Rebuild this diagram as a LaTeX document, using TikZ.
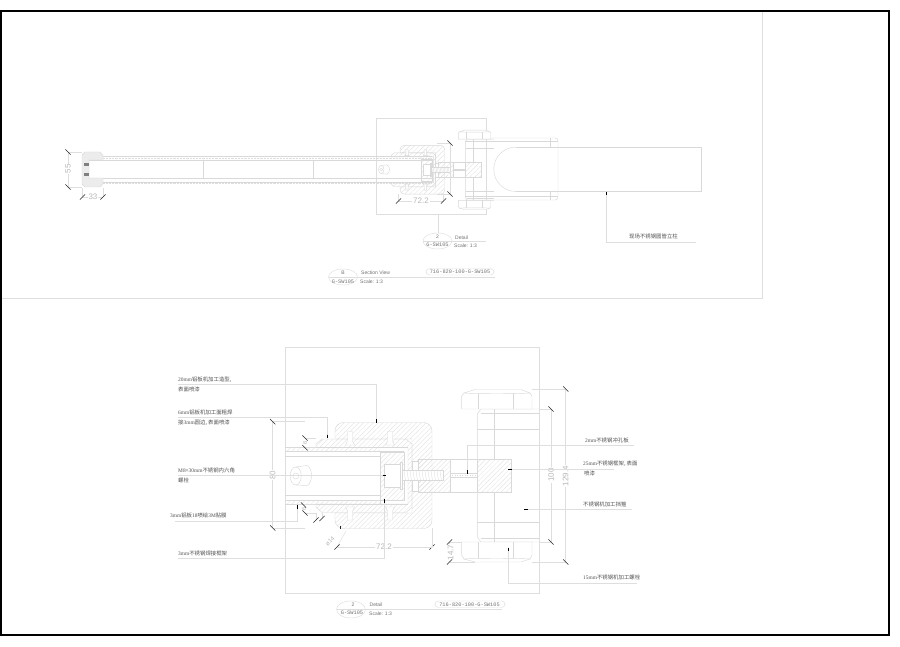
\documentclass[tikz,border=0pt]{standalone}
\usepackage{fontspec}
\newfontfamily\cjk{Noto Sans CJK SC}
\setmainfont{Liberation Serif}
\setsansfont{Liberation Sans}
\setmonofont{Liberation Mono}
\usetikzlibrary{patterns.meta}
\definecolor{ln}{gray}{0.87}
\definecolor{lnd}{gray}{0.85}
\definecolor{hat}{gray}{0.87}
\definecolor{dimc}{gray}{0.72}
\definecolor{lab}{gray}{0.32}
\tikzset{
 x=1pt,y=-1pt,
 thin line/.style={draw=ln,line width=.5pt},
 leader/.style={draw=ln,line width=.45pt},
 part/.style={draw=lnd,line width=.45pt},
 hatchfill/.style={part,pattern={Lines[angle=45,distance=3.4pt,line width=.3pt]},pattern color=hat},
 tickmark/.style={draw=black!85,line width=.6pt},
 dimtext/.style={text=dimc,font=\sffamily\fontsize{8}{8}\selectfont,inner sep=1pt,fill=white},
 smalltext/.style={text=black!55,font=\sffamily\fontsize{5}{5}\selectfont,inner sep=0pt},
 codetext/.style={text=black!55,font=\ttfamily\fontsize{5.3}{5.3}\selectfont,inner sep=0pt},
 lbl/.style={text=lab,font=\rmfamily\fontsize{5.4}{6}\selectfont,inner sep=0pt,anchor=west},
}
\newcommand{\C}[1]{{\cjk #1}}
\newcommand{\tk}[2]{\draw[tickmark] (#1-2.6,#2+2.6) -- (#1+2.6,#2-2.6);}
\newcommand{\tb}[2]{\draw[tickmark] (#1-2.6,#2-2.6) -- (#1+2.6,#2+2.6);}
\newcommand{\arrowv}[3]{\draw[draw=black,line width=.9pt] (#1,#2) -- (#1,#3);}
\newcommand{\arrowh}[3]{\draw[draw=black,line width=.9pt] (#1,#3) -- (#2,#3);}
\def\rcr{8.5pt}
\newcommand{\clampdetail}{%
  % C-shaped outer block
  \draw[hatchfill] (335,439) [rounded corners=\rcr] -- (335,422.5) -- (432,422.5) -- (432,528.5) -- (335,528.5) [sharp corners] -- (335,513) -- (412,513) -- (412,439) -- cycle;
  % inner plate
  \draw[hatchfill] (316,444) -- (322,439) -- (406,439) -- (412,444) -- (412,507) -- (406,512.5) -- (322,512.5) -- (316,507) -- (316,504) -- (408,504) -- (408,447.5) -- (316,447.5) -- cycle;
  % T bolts
  \foreach \tx in {350,390}{
   \draw[part,fill=white] (\tx-2.5,431.5) -- (\tx+2.5,431.5) -- (\tx+2.5,441) -- (\tx+4.5,445) -- (\tx-4.5,445) -- (\tx-2.5,441) -- cycle;
   \draw[part,fill=white] (\tx-2.5,520) -- (\tx+2.5,520) -- (\tx+2.5,511) -- (\tx+4.5,507) -- (\tx-4.5,507) -- (\tx-2.5,511) -- cycle;
  }
  % inner insert
  \draw[hatchfill] (380,452) -- (404,452) -- (404,500) -- (380,500) -- cycle;
  \draw[part,fill=white] (384.7,464) -- (400,464) -- (400,487) -- (384.7,487) -- cycle;
  \draw[part,fill=white] (400,462) -- (402,462) -- (402,489) -- (400,489) -- cycle;
  % stem and washer
  \draw[part,fill=white] (412,461) -- (418,461) -- (418,491) -- (412,491) -- cycle;
  \draw[hatchfill] (418,459.3) -- (450,459.3) -- (450,492.3) -- (418,492.3) -- cycle;
  \draw[part] (450,459.3) -- (477.3,459.3) (450,492.3) -- (477.3,492.3);
  \draw[hatchfill] (477.3,459.3) -- (511.5,459.3) -- (511.5,492.3) -- (477.3,492.3) -- cycle;
  % threaded bolt
  \draw[part,fill=white] (402,470.7) -- (443,470.7) -- (443,480.7) -- (402,480.7) -- cycle;
  \foreach \bx in {404,407,...,442}{\draw[part,line width=.3pt] (\bx,470.7) -- (\bx+1.5,480.7);}
  % perforated plate
  \draw[part] (450,473.5) -- (477.3,473.5) (450,477.5) -- (477.3,477.5);
  \draw[part,dotted] (450,475.5) -- (477.3,475.5);
  % clamp body
  \draw[part] (477.3,459.3) -- (477.3,414) -- (481,409) -- (539,409);
  \draw[part] (477.3,492.3) -- (477.3,537) -- (481,542) -- (539,542);
  \draw[part] (481,413) -- (539,413) (477.3,429) -- (539,429) (477.3,522) -- (539,522) (481,538) -- (539,538);
  \draw[part] (494.6,409) -- (494.6,459.3) (494.6,492.3) -- (494.6,542);
  % heads
  \draw[part,fill=white] (461.7,396) -- (464,393) -- (475,389.5) -- (521,389.5) -- (530,393) -- (532,396) -- (532,409) -- (461.7,409) -- cycle;
  \draw[part] (478.5,393.5) -- (478.5,409) (513.5,393) -- (513.5,409);
  \draw[part] (464,393) .. controls (478,394) and (515,394) .. (530,393);
  \draw[part,fill=white] (461.7,555) -- (464,559) -- (475,562) -- (521,562) -- (530,559) -- (532,555) -- (532,542) -- (461.7,542) -- cycle;
  \draw[part] (478.5,558) -- (478.5,542) (513.5,558) -- (513.5,542);
  \draw[part] (464,559) .. controls (478,558) and (515,558) .. (530,559);
}
\begin{document}
\begin{tikzpicture}
\useasboundingbox (0,0) rectangle (900,647);
\fill[white] (0,0) rectangle (900,647);
% sheet lines and frame
\draw[thin line] (1,298.5) -- (762.5,298.5) -- (762.5,11);
\draw[draw=black,line width=2.2pt] (1.2,11) rectangle (888.8,635);

% ---------- top section ----------
\draw[thin line] (376.5,118) rectangle (486.5,214.5);
% post and clamp
\draw[part] (516,147) -- (701.5,147) -- (701.5,191.5) -- (516,191.5);
\draw[part] (516,147) .. controls (503.7,147) and (493.75,157) .. (493.75,169.25) .. controls (493.75,181.5) and (503.7,191.5) .. (516,191.5);
\draw[part,rounded corners=3pt] (465,138) -- (558,138) -- (558,200) -- (465,200);
\draw[part] (465,141.5) -- (558,141.5) (465,196.5) -- (558,196.5) (550,138) -- (550,147) (550,191.5) -- (550,200);
% handle rails
\draw[part] (85,156) -- (432,156) (85,160) -- (432,160) (85,178) -- (432,178) (85,182) -- (432,182);
\draw[part,densely dotted,draw=ln] (100,158) -- (432,158);
\draw[part,densely dotted,draw=ln] (100,183) -- (432,183);
\draw[part] (203.5,160) -- (203.5,178) (313,160) -- (313,178);
\begin{scope}[shift={(246,-49.0)},x=.46pt,y=-.46pt]
\def\rcr{4pt}
\clampdetail
\draw[part,fill=white] (294,475) ellipse[x radius=6,y radius=9];
\draw[part] (294,475) circle[radius=3];
\draw[part] (294,466) -- (306,465) (294,484) -- (306,485);
\draw[part] (306,465) .. controls (314,468) and (314,482) .. (306,485);
\end{scope}
% end cap
\fill[gray!15] (85,152) -- (100,152) -- (103,155.5) -- (103,160) -- (89,160) -- (89,178) -- (103,178) -- (103,183.5) -- (100,187) -- (85,187) -- (82,184) -- (82,155) -- cycle;
\draw[part] (85,152) -- (100,152) -- (103,155.5) -- (103,160) -- (89,160) -- (89,178) -- (103,178) -- (103,183.5) -- (100,187) -- (85,187) -- (82,184) -- (82,155) -- cycle;
\fill[black!50] (84,163) rectangle (89,166.5);
\fill[black!50] (84,173) rectangle (89,176.5);
% dims
\draw[leader] (68,152) -- (82,152) (68,187) -- (82,187);
\draw[leader] (68,152) -- (68,187);
\node[dimtext,rotate=90] (d55) at (68,169) {55};
\tb{68}{152}\tb{68}{187}
\draw[leader] (82,188) -- (82,197) (103,188) -- (103,197) (82,197) -- (103,197);
\node[dimtext] (d33) at (93,197) {33};
\tk{82.5}{197}\tk{103}{197}
\draw[leader] (398,194) -- (398,201) (443.5,194) -- (443.5,201) (398,201) -- (443.5,201);
\node[dimtext] (d722a) at (421,201) {72.2};
\tk{398.5}{201}\tk{443.5}{201}
\draw[leader] (437,143) -- (450,143) (437,194) -- (450,194) (450,143) -- (450,194);
\tb{450}{143}\tb{450}{194}
% post leader
\coordinate (pa) at (606,192);
\coordinate (pb) at (606,242);
\coordinate (pc) at (696,242);
\draw[leader] (pa) -- (pb) -- (pc);
\arrowv{606}{192}{195}
\node[lbl] (plabel) at (629,236.5) {\C{现场不锈钢圆管立柱}};
% detail marker
\draw[leader] (438,214.5) -- (438,233.5);
\draw[leader] (423,241) -- (486,241);
\draw[leader,fill=white] (437.5,241) ellipse[x radius=14.5,y radius=8];
\draw[leader] (423,241) -- (452,241);
\node[smalltext] (m1) at (437.5,237) {2};
\node[codetext] (m2) at (437.5,245) {G-SW105};
\node[smalltext,anchor=west] (m3) at (455,237.5) {Detail};
\node[smalltext,anchor=west] (m4) at (454,246) {Scale: 1:3};
% section marker
\draw[leader] (329,277) -- (495,277);
\draw[leader,fill=white] (343,277) ellipse[x radius=14.5,y radius=8];
\draw[leader] (329,277) -- (357,277);
\node[smalltext] (s1) at (343,272.5) {B};
\node[codetext] (s2) at (343,281.5) {G-SW105};
\node[smalltext,anchor=west] (s3) at (361,272.5) {Section View};
\node[smalltext,anchor=west] (s4) at (360,282) {Scale: 1:3};
\draw[leader,fill=white,rounded corners=3.5pt] (426,268.5) rectangle (494,275);
\node[codetext] (s5) at (460,271.8) {716-820-100-G-SW105};

% ---------- detail ----------
\draw[thin line] (285,347) rectangle (539,593);
\clampdetail
% tube
\draw[part] (285,447.7) -- (408,447.7) (285,451.7) -- (404,451.7) (285,456) -- (380,456) (285,495) -- (380,495) (285,500) -- (404,500) (285,504) -- (408,504);
\fill[pattern={Lines[angle=45,distance=3.4pt,line width=.3pt]},pattern color=hat] (285,447.7) rectangle (380,451.7) (285,500) rectangle (380,504);
\draw[part] (380,452) -- (380,504);
% socket bolt
\draw[part,fill=white] (295.7,476) ellipse[x radius=5.5,y radius=9];
\draw[part] (295.7,476) circle[radius=3];
\draw[part] (295.7,467) -- (307,465.5) (295.7,485) -- (307,485.5);
\draw[part] (307,465.5) .. controls (313,468) and (313,483) .. (307,485.5);
% dims
\draw[leader] (272.7,421.7) -- (305,421.7) (272.7,528) -- (305,528) (272.7,421.7) -- (272.7,528);
\node[dimtext,rotate=90] (d80) at (272.7,475) {80};
\tb{272.7}{421.7}\tb{272.7}{528}
\draw[leader] (305,438) -- (316,438) (305,447.7) -- (316,447.7);
\node[dimtext,rotate=90,fill=none,font=\sffamily\fontsize{6}{6}\selectfont] (d6a) at (305,442.7) {6};
\tb{305}{438}\tb{305}{447.7}
\draw[leader] (304,504.5) -- (316,504.5) (305,513) -- (316,513);
\node[dimtext,rotate=90,fill=none,font=\sffamily\fontsize{6}{6}\selectfont] (d6b) at (304,509) {6};
\tb{303.5}{505}\tb{305}{513}
\draw[leader] (316,513) -- (316,520) (322,513) -- (322,518);
\tk{316}{520}\tk{322}{518.5}
\node[dimtext,fill=none,rotate=45,font=\sffamily\fontsize{6}{6}\selectfont] (dphi) at (330,541.5) {ø14};
\draw[leader] (337,547) -- (346,531);
\draw[tickmark] (340,525.5) -- (340,529);
\tk{337}{547}\tk{432}{547}
\draw[leader] (337,547) -- (432,547) (432,528) -- (432,547);
\node[dimtext] (d722b) at (384,547) {72.2};
% right dims
\draw[leader] (532,389) -- (565.7,389) (532,562) -- (565.7,562) (565.7,389) -- (565.7,562);
\draw[leader] (539,409) -- (551,409) (539,542) -- (551,542) (551,409) -- (551,542);
\node[dimtext,rotate=90] (d100) at (551,475) {100};
\node[dimtext,rotate=90] (d129) at (565.7,476) {129.4};
\tb{551}{409}\tb{551}{542}\tb{565.7}{389}\tb{565.7}{562}
\draw[leader] (449.5,542) -- (461.7,542) (449.5,562) -- (475,562) (449.5,542) -- (449.5,562);
\node[dimtext,rotate=90,fill=white] (d147) at (450.5,552.5) {14.7};
\tk{449.5}{542}\tk{449.5}{562}
% leaders and labels
\coordinate (a1) at (178,384); \coordinate (a1b) at (376.5,384); \coordinate (a1c) at (376.5,422);
\draw[leader] (a1) -- (a1b) -- (a1c); \arrowv{376.5}{419}{422.5}
\node[lbl] (t1) at (178,379.5) {20mm\C{铝板机加工造型,}};
\node[lbl] (t1b) at (178,389.5) {\C{表面喷漆}};
\coordinate (a2) at (178,417); \coordinate (a2b) at (327,417); \coordinate (a2c) at (327,438);
\draw[leader] (a2) -- (a2b) -- (a2c); \arrowv{327}{434.5}{438}
\node[lbl] (t2) at (178,412) {6mm\C{铝板机加工面粗焊}};
\node[lbl] (t2b) at (178,423) {\C{接}3mm\C{圆边, 表面喷漆}};
\coordinate (a3) at (178,475.3); \coordinate (a3b) at (386,475.3);
\draw[leader] (a3) -- (a3b); \arrowh{382.5}{386}{475.3}
\node[lbl] (t3) at (178,470) {M8×30mm\C{不锈钢内六角}};
\node[lbl] (t3b) at (178,480.5) {\C{螺栓}};
\coordinate (a4) at (175,521.5); \coordinate (a4b) at (297,521.5); \coordinate (a4c) at (297,505);
\draw[leader] (a4) -- (a4b) -- (a4c); \arrowv{297}{505}{509}
\node[lbl] (t4) at (170,515.5) {3mm\C{铝板}18\C{喷绘}3M\C{贴膜}};
\coordinate (a5) at (178,558.5); \coordinate (a5b) at (384.5,558.5); \coordinate (a5c) at (384.5,499);
\draw[leader] (a5) -- (a5b) -- (a5c); \arrowv{384.5}{499}{503}
\node[lbl] (t5) at (178,553) {3mm\C{不锈钢焊接框架}};
\coordinate (b1) at (634,445); \coordinate (b1b) at (467.7,445); \coordinate (b1c) at (467.7,474);
\draw[leader] (b1) -- (b1b) -- (b1c); \arrowv{467.7}{470}{474}
\node[lbl] (u1) at (585,440.5) {2mm\C{不锈钢冲孔板}};
\coordinate (b2) at (614,469); \coordinate (b2b) at (508,469);
\draw[leader] (b2) -- (b2b); \arrowh{508}{511.5}{469}
\node[lbl] (u2) at (583,463.5) {25mm\C{不锈钢框架, 表面}};
\node[lbl] (u2b) at (584,473.5) {\C{喷漆}};
\coordinate (b3) at (632,509.3); \coordinate (b3b) at (524,509.3);
\draw[leader] (b3) -- (b3b); \arrowh{524}{528}{509.3}
\node[lbl] (u3) at (583,504.5) {\C{不锈钢机加工挡箍}};
\coordinate (b4) at (637,583); \coordinate (b4b) at (508.3,583); \coordinate (b4c) at (508.3,547.5);
\draw[leader] (b4) -- (b4b) -- (b4c); \arrowv{508.3}{547.5}{551}
\node[lbl] (u4) at (583,577.5) {15mm\C{不锈钢机加工螺栓}};
% lower marker
\draw[leader] (337,609) -- (502,609);
\draw[leader,fill=white] (351,609.5) ellipse[x radius=14.5,y radius=8.5];
\draw[leader] (337,609.5) -- (365,609.5);
\node[smalltext] (k1) at (353,604.7) {2};
\node[codetext] (k2) at (352,613) {G-SW105};
\node[smalltext,anchor=west] (k3) at (369.5,605) {Detail};
\node[smalltext,anchor=west] (k4) at (369,613.5) {Scale: 1:3};
\draw[leader,fill=white,rounded corners=3.5pt] (435,601) rectangle (505,607.5);
\node[codetext] (k5) at (469.5,604.3) {716-820-100-G-SW105};
\end{tikzpicture}
\end{document}
